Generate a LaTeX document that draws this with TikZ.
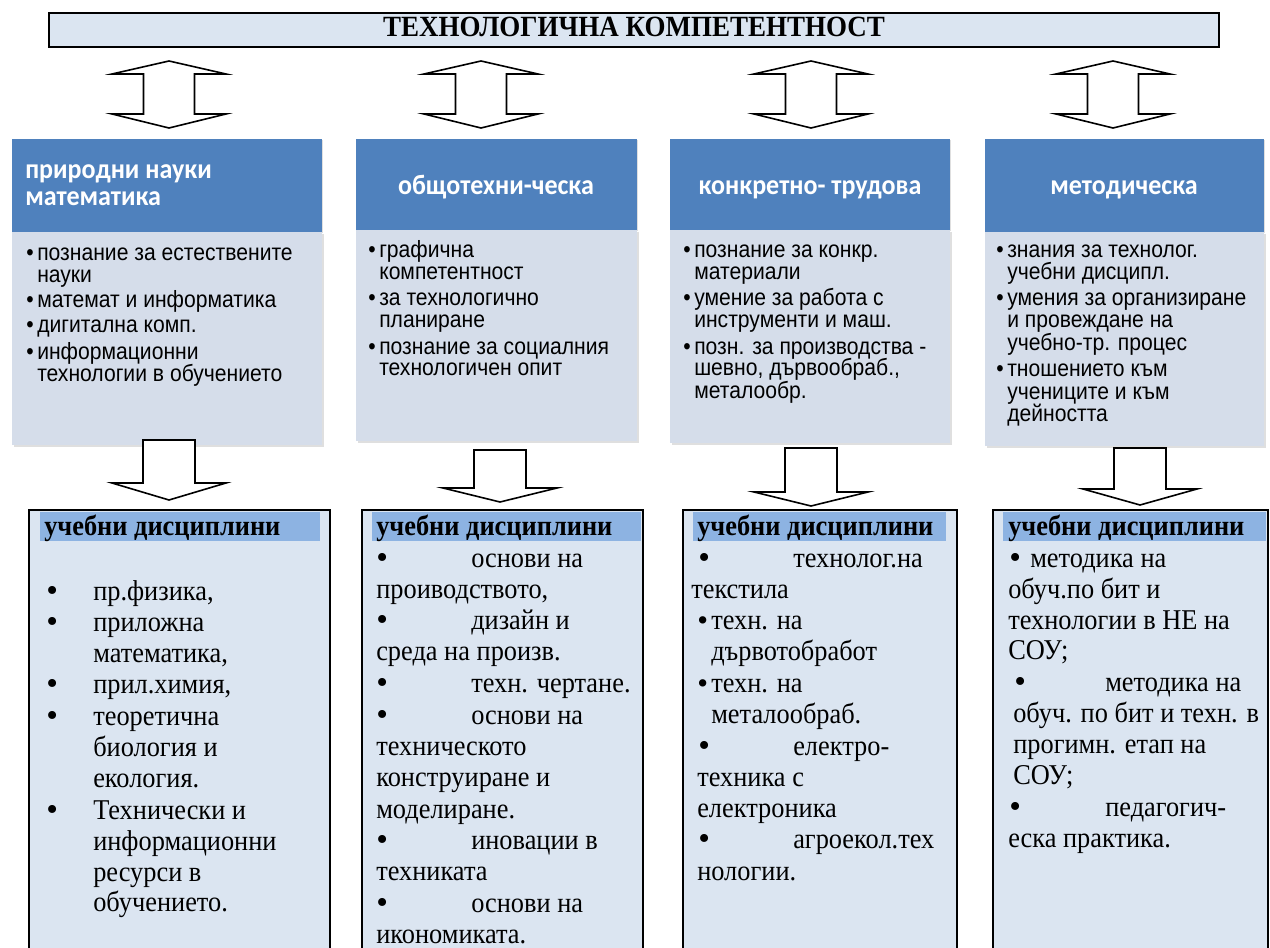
\documentclass[tikz,border=0pt]{standalone}
\usepackage{fontspec}
\setmainfont[FakeStretch=0.92]{Liberation Serif}
\newfontfamily\hdfont[FakeStretch=0.93]{Carlito}
\newfontfamily\arialfont[FakeStretch=0.9]{Liberation Sans}
\newfontfamily\bulfont{Liberation Serif}
\usetikzlibrary{fit,shadows}
\definecolor{hdblue}{HTML}{4F81BD}
\definecolor{ltbox}{HTML}{D5DDEA}
\definecolor{btbox}{HTML}{DBE5F1}
\definecolor{hilite}{HTML}{8DB3E2}
\definecolor{titlefill}{HTML}{DBE5F1}
\tikzset{
  blk/.style={draw=black, line width=1.2pt, fill=white, line join=miter},
  tbox/.style={draw=black, line width=1.5pt, fill=titlefill, inner sep=0pt, outer sep=0pt},
  hdbox/.style={fill=hdblue, draw=none, inner sep=0pt, outer sep=0pt,
    drop shadow={shadow xshift=1pt, shadow yshift=-1pt, opacity=0.25}},
  ltboxst/.style={fill=ltbox, draw=none, inner sep=0pt, outer sep=0pt,
    drop shadow={shadow xshift=1.5pt, shadow yshift=-1.5pt, opacity=0.25}},
  bbox/.style={draw=black, line width=1.5pt, fill=btbox, inner sep=0pt, outer sep=0pt},
  hl/.style={fill=hilite, draw=none, inner sep=0pt, outer sep=0pt},
  hd/.style={font=\hdfont\bfseries\fontsize{21pt}{23pt}\selectfont, text=white, inner sep=0pt, anchor=base},
  lt/.style={font=\arialfont\fontsize{17.6pt}{19pt}\selectfont, anchor=base west, inner sep=0pt},
  bt/.style={font=\fontsize{21.5pt}{24pt}\selectfont, anchor=base west, inner sep=0pt},
  bb/.style={font=\bulfont\fontsize{25pt}{25pt}\selectfont, anchor=base west, inner sep=0pt, yshift=-1.2pt},
  bbs/.style={font=\bulfont\fontsize{23pt}{23pt}\selectfont, anchor=base west, inner sep=0pt, yshift=-0.8pt},
  bth/.style={font=\bfseries\fontsize{21.5pt}{24pt}\selectfont, anchor=base west, inner sep=0pt},
  pics/udarr/.style={code={
    \draw[blk] (0,0) -- (57,13) -- (25.5,13) -- (25.5,53) -- (57,53) -- (0,67)
      -- (-57,53) -- (-25.5,53) -- (-25.5,13) -- (-57,13) -- cycle;
  }},
  pics/dnarr/.style 2 args={code={
    \draw[blk] (-26,0) -- (26,0) -- (26,#1) -- (57,#1) -- (0,#2) -- (-57,#1) -- (-26,#1) -- cycle;
  }},
}
\begin{document}
\begin{tikzpicture}[x=0.75pt,y=-0.75pt]
\useasboundingbox (0,0) rectangle (1270,948);
\clip (0,0) rectangle (1270,948);
\fill[white] (0,0) rectangle (1270,948);

% title
\node[tbox, fit={(49,13) (1219,47)}] (title) {};
\node[font=\bfseries\fontsize{22pt}{24pt}\selectfont, inner sep=0pt, anchor=base] (titletext) at (634,37) {ТЕХНОЛОГИЧНА КОМПЕТЕНТНОСТ};

% double arrows
\pic (u1) at (169,61) {udarr};
\pic (u2) at (481,61) {udarr};
\pic (u3) at (811,61) {udarr};
\pic (u4) at (1113,61) {udarr};

% header boxes
\node[hdbox, fit={(12,139) (322,232)}] (h1) {};
\node[hdbox, fit={(356,139) (637,230)}] (h2) {};
\node[hdbox, fit={(670,139) (950,230)}] (h3) {};
\node[hdbox, fit={(985,139) (1264,232)}] (h4) {};

% light boxes
\node[ltboxst, fit={(12,232) (322,445)}] (l1) {};
\node[ltboxst, fit={(356,230) (637,441)}] (l2) {};
\node[ltboxst, fit={(670,230) (950,443)}] (l3) {};
\node[ltboxst, fit={(985,232) (1264,446)}] (l4) {};

% header texts
\node[hd, anchor=base west] (h1a) at (25,179) {природни науки};
\node[hd, anchor=base west] (h1b) at (25,206) {математика};
\node[hd] (h2t) at (496,195) {общотехни-ческа};
\node[hd] (h3t) at (810,195) {конкретно- трудова};
\node[hd] (h4t) at (1124,195) {методическа};

% light box 1
\node[lt] (l1b1) at (26,261) {•};
\node[lt] (l1t1) at (37,261) {познание за естествените};
\node[lt] (l1t2) at (37,283) {науки};
\node[lt] (l1b3) at (26,308) {•};
\node[lt] (l1t3) at (37,308) {математ и информатика};
\node[lt] (l1b4) at (26,333) {•};
\node[lt] (l1t4) at (37,333) {дигитална комп.};
\node[lt] (l1b5) at (26,359) {•};
\node[lt] (l1t5) at (37,359) {информационни};
\node[lt] (l1t6) at (37,382) {технологии в обучението};

% light box 2
\node[lt] (l2b1) at (368,258) {•};
\node[lt] (l2t1) at (379,258) {графична};
\node[lt] (l2t2) at (379,280) {компетентност};
\node[lt] (l2b3) at (368,306) {•};
\node[lt] (l2t3) at (379,306) {за технологично};
\node[lt] (l2t4) at (379,328) {планиране};
\node[lt] (l2b5) at (368,354) {•};
\node[lt] (l2t5) at (379,354) {познание за социалния};
\node[lt] (l2t6) at (379,376) {технологичен опит};

% light box 3
\node[lt] (l3b1) at (683,258) {•};
\node[lt] (l3t1) at (694,258) {познание за конкр.};
\node[lt] (l3t2) at (694,280) {материали};
\node[lt] (l3b3) at (683,306) {•};
\node[lt] (l3t3) at (694,306) {умение за работа с};
\node[lt] (l3t4) at (694,328) {инструменти и маш.};
\node[lt] (l3b5) at (683,354) {•};
\node[lt] (l3t5) at (694,354) {позн. за производства -};
\node[lt] (l3t6) at (694,376) {шевно, дървообраб.,};
\node[lt] (l3t7) at (694,398) {металообр.};

% light box 4
\node[lt] (l4b1) at (996,258) {•};
\node[lt] (l4t1) at (1007,258) {знания за технолог.};
\node[lt] (l4t2) at (1007,280) {учебни дисципл.};
\node[lt] (l4b3) at (996,306) {•};
\node[lt] (l4t3) at (1007,306) {умения за организиране};
\node[lt] (l4t4) at (1007,328) {и провеждане на};
\node[lt] (l4t5) at (1007,351) {учебно-тр. процес};
\node[lt] (l4b6) at (996,377) {•};
\node[lt] (l4t6) at (1007,377) {тношението към};
\node[lt] (l4t7) at (1007,399) {учениците и към};
\node[lt] (l4t8) at (1007,421) {дейността};

% down arrows
\pic (d1) at (169,440) {dnarr={43}{60}};
\pic (d2) at (500,450) {dnarr={38}{52}};
\pic (d3) at (811,448) {dnarr={44}{58}};
\pic (d4) at (1140,448) {dnarr={41}{57}};

% bottom boxes
\node[bbox, fit={(29,510) (330,970)}] (b1) {};
\node[bbox, fit={(362,510) (643,970)}] (b2) {};
\node[bbox, fit={(683,510) (957,970)}] (b3) {};
\node[bbox, fit={(993,510) (1268,970)}] (b4) {};
\node[hl, fit={(40,512) (320,541)}] (b1h) {};
\node[hl, fit={(372,512) (641,541)}] (b2h) {};
\node[hl, fit={(693,512) (946,541)}] (b3h) {};
\node[hl, fit={(1003,512) (1266,541)}] (b4h) {};
\node[bth] (b1ht) at (44,535) {учебни дисциплини};
\node[bth] (b2ht) at (376,535) {учебни дисциплини};
\node[bth] (b3ht) at (697,535) {учебни дисциплини};
\node[bth] (b4ht) at (1008,535) {учебни дисциплини};

% bottom box 1
\node[bb] (p1b1) at (46,600) {•};
\node[bt] (p1t1) at (93,600) {пр.физика,};
\node[bb] (p1b2) at (46,631) {•};
\node[bt] (p1t2) at (93,631) {приложна};
\node[bt] (p1t3) at (93,662) {математика,};
\node[bb] (p1b4) at (46,693) {•};
\node[bt] (p1t4) at (93,693) {прил.химия,};
\node[bb] (p1b5) at (46,725) {•};
\node[bt] (p1t5) at (93,725) {теоретична};
\node[bt] (p1t6) at (93,756) {биология и};
\node[bt] (p1t7) at (93,787) {екология.};
\node[bb] (p1b8) at (46,819) {•};
\node[bt] (p1t8) at (93,819) {Технически и};
\node[bt] (p1t9) at (93,850) {информационни};
\node[bt] (p1t10) at (93,881) {ресурси в};
\node[bt] (p1t11) at (93,911) {обучението.};

% bottom box 2
\node[bb] (p2b1) at (376,567) {•};
\node[bt] (p2t1) at (471,567) {основи на};
\node[bt] (p2t2) at (376,598) {проиводството,};
\node[bb] (p2b3) at (376,629) {•};
\node[bt] (p2t3) at (471,629) {дизайн и};
\node[bt] (p2t4) at (376,660) {среда на произв.};
\node[bb] (p2b5) at (376,692) {•};
\node[bt] (p2t5) at (471,692) {техн. чертане.};
\node[bb] (p2b6) at (376,724) {•};
\node[bt] (p2t6) at (471,724) {основи на};
\node[bt] (p2t7) at (376,755) {техническото};
\node[bt] (p2t8) at (376,786) {конструиране и};
\node[bt] (p2t9) at (376,818) {моделиране.};
\node[bb] (p2b10) at (376,849) {•};
\node[bt] (p2t10) at (471,849) {иновации в};
\node[bt] (p2t11) at (376,880) {техниката};
\node[bb] (p2b12) at (376,912) {•};
\node[bt] (p2t12) at (471,912) {основи на};
\node[bt] (p2t13) at (376,943) {икономиката.};

% bottom box 3
\node[bb] (p3b1) at (698,567) {•};
\node[bt] (p3t1) at (793,567) {технолог.на};
\node[bt] (p3t2) at (691,598) {текстила};
\node[bbs] (p3b3) at (697,629) {•};
\node[bt] (p3t3) at (711,629) {техн. на};
\node[bt] (p3t4) at (711,660) {дървотобработ};
\node[bbs] (p3b5) at (697,692) {•};
\node[bt] (p3t5) at (711,692) {техн. на};
\node[bt] (p3t6) at (711,723) {металообраб.};
\node[bb] (p3b7) at (698,755) {•};
\node[bt] (p3t7) at (793,755) {електро-};
\node[bt] (p3t8) at (697,786) {техника с};
\node[bt] (p3t9) at (697,817) {електроника};
\node[bb] (p3b10) at (698,848) {•};
\node[bt] (p3t10) at (793,848) {агроекол.тех};
\node[bt] (p3t11) at (697,880) {нологии.};

% bottom box 4
\node[bb] (p4b1) at (1009,567) {•};
\node[bt] (p4t1) at (1030,567) {методика на};
\node[bt] (p4t2) at (1008,598) {обуч.по бит и};
\node[bt] (p4t3) at (1008,629) {технологии в НЕ на};
\node[bt] (p4t4) at (1008,659) {СОУ;};
\node[bb] (p4b5) at (1014,691) {•};
\node[bt] (p4t5) at (1105,691) {методика на};
\node[bt] (p4t6) at (1013,722) {обуч. по бит и техн. в};
\node[bt] (p4t7) at (1013,753) {прогимн. етап на};
\node[bt] (p4t8) at (1013,784) {СОУ;};
\node[bb] (p4b9) at (1009,816) {•};
\node[bt] (p4t9) at (1105,816) {педагогич-};
\node[bt] (p4t10) at (1008,847) {еска практика.};
\end{tikzpicture}
\end{document}
